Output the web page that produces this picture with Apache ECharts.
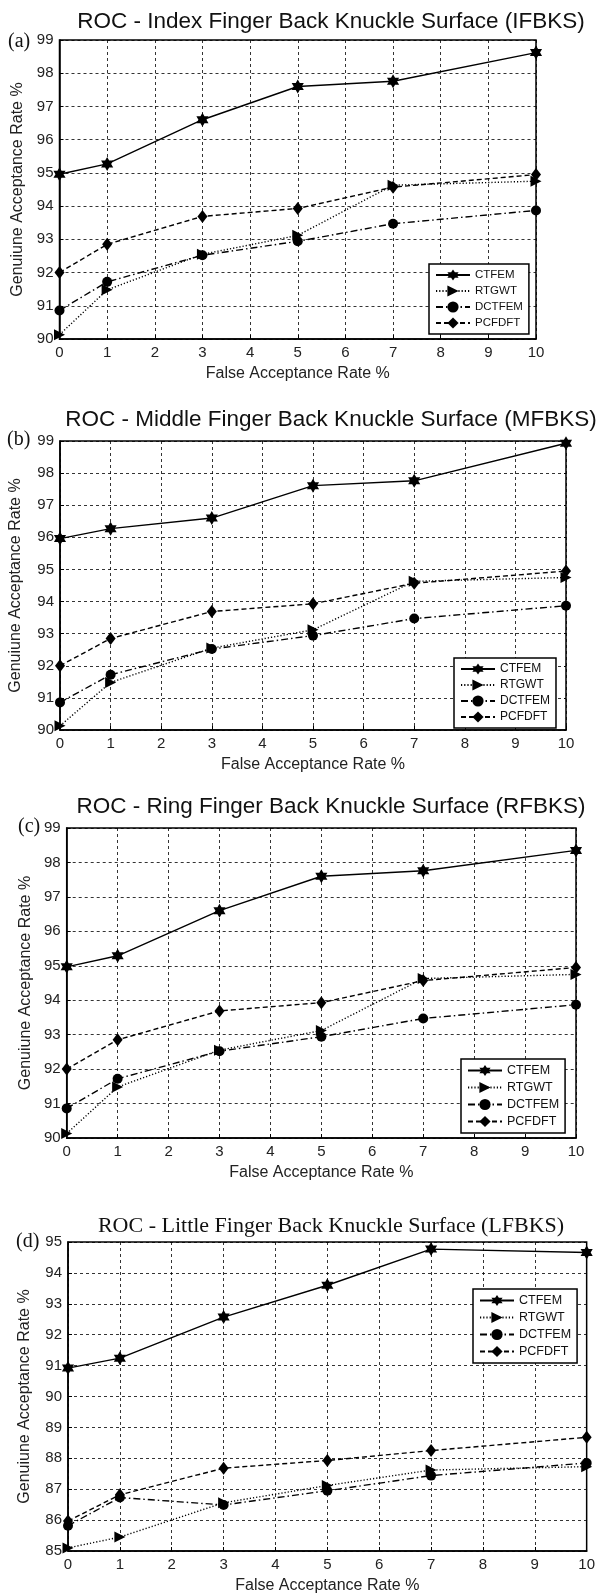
<!DOCTYPE html>
<html>
<head>
<meta charset="utf-8">
<script src="https://cdn.jsdelivr.net/npm/echarts@6/dist/echarts.min.js"></script>
<style>
  html, body { margin: 0; padding: 0; background: #fff; }
  #chart { width: 598px; height: 1595px; }
</style>
</head>
<body>
<div id="chart"></div>
<script>
// ---------------------------------------------------------------------------
// Data
// ---------------------------------------------------------------------------
const farValues = [0, 1, 3, 5, 7, 10];
const methodNames = ["CTFEM", "RTGWT", "DCTFEM", "PCFDFT"];
const panelTags = ["(a)", "(b)", "(c)", "(d)"];
const panelTitles = [
  "ROC - Index Finger Back Knuckle Surface (IFBKS)",
  "ROC - Middle Finger Back Knuckle Surface (MFBKS)",
  "ROC - Ring Finger Back Knuckle Surface (RFBKS)",
  "ROC - Little Finger Back Knuckle Surface (LFBKS)"
];
const yRanges = [[90, 99], [90, 99], [90, 99], [85, 95]];

const ctfemA = [94.96, 95.27, 96.6, 97.6, 97.76, 98.62];
const ctfemB = [95.96, 96.27, 96.6, 97.61, 97.76, 98.93];
const ctfemC = [94.97, 95.29, 96.6, 97.6, 97.76, 98.35];
const ctfemD = [90.92, 91.24, 92.57, 93.6, 94.77, 94.66];

// panels a, b, c share the three baseline methods
const rtgwtABC = [90.13, 91.48, 92.55, 93.12, 94.63, 94.75];
const dctfemABC = [90.86, 91.72, 92.52, 92.94, 93.47, 93.87];
const pcfdftABC = [92.0, 92.85, 93.69, 93.93, 94.57, 94.95];

const rtgwtD = [85.1, 85.45, 86.56, 87.12, 87.62, 87.73];
const dctfemD = [85.82, 86.73, 86.49, 86.95, 87.44, 87.85];
const pcfdftD = [85.97, 86.82, 87.68, 87.93, 88.25, 88.68];

const panelValues = [
  [ctfemA, rtgwtABC, dctfemABC, pcfdftABC],
  [ctfemB, rtgwtABC, dctfemABC, pcfdftABC],
  [ctfemC, rtgwtABC, dctfemABC, pcfdftABC],
  [ctfemD, rtgwtD, dctfemD, pcfdftD]
];

// ---------------------------------------------------------------------------
// Layout (pixels) - one entry per panel
// ---------------------------------------------------------------------------
const layouts = [
  { grid: { left: 59.5, top: 40, width: 476.5, height: 299 }, titleTop: 10, titleSize: 22.5, yGap: 31, tag: [8, 42], legend: [429, 264, 11.5], serifTitle: false },
  { grid: { left: 59.5, top: 441, width: 506.5, height: 289 }, titleTop: 408, titleSize: 22.5, yGap: 36, tag: [7, 440], legend: [454, 658, 12], serifTitle: false },
  { grid: { left: 66.7, top: 828, width: 509.3, height: 310 }, titleTop: 795, titleSize: 22.5, yGap: 30, tag: [18, 827], legend: [461, 1059, 12.5], serifTitle: false },
  { grid: { left: 68, top: 1242, width: 519, height: 310 }, titleTop: 1215, titleSize: 22, yGap: 35, tag: [16, 1242], legend: [473, 1289, 12.5], serifTitle: true }
];

const SANS = '"Liberation Sans", Arial, sans-serif';
const SERIF = '"Liberation Serif", "Times New Roman", serif';
const INK = "#111";

function hexagramPath() {
  const pts = [];
  for (let i = 0; i < 12; i++) {
    const r = i % 2 === 0 ? 10 : 5.77;
    const a = -Math.PI / 2 + (i * Math.PI) / 6;
    pts.push((r * Math.cos(a)).toFixed(2) + "," + (r * Math.sin(a)).toFixed(2));
  }
  return "path://M" + pts.join("L") + "Z";
}

const methodStyles = {
  CTFEM: { dash: "solid", symbol: hexagramPath(), size: 14, rotate: 0 },
  RTGWT: { dash: [1.2, 2], symbol: "triangle", size: 11, rotate: -90 },
  DCTFEM: { dash: [7, 3, 1.5, 3], symbol: "circle", size: 10, rotate: 0 },
  PCFDFT: { dash: [5, 3], symbol: "diamond", size: [10, 13], rotate: 0 }
};

const grids = [], xAxes = [], yAxes = [], series = [], legends = [], titles = [], tags = [];

layouts.forEach((L, p) => {
  grids.push(Object.assign({ show: true, borderColor: "#000", borderWidth: 1.5, backgroundColor: "#fff" }, L.grid));

  xAxes.push({
    gridIndex: p, type: "value", min: 0, max: 10, interval: 1,
    axisLine: { show: true, onZero: false, lineStyle: { color: "#000", width: 1.5 } },
    axisTick: { inside: true, length: 4, lineStyle: { color: "#000" } },
    axisLabel: { fontFamily: SANS, fontSize: 15, color: "#222", margin: 6 },
    splitLine: { show: true, lineStyle: { color: "#000", type: [3, 3], width: 0.8 } },
    name: "False Acceptance Rate %", nameLocation: "middle", nameGap: 27,
    nameTextStyle: { fontFamily: SANS, fontSize: 16, color: "#222" }
  });

  yAxes.push({
    gridIndex: p, type: "value", min: yRanges[p][0], max: yRanges[p][1], interval: 1,
    axisLine: { show: true, lineStyle: { color: "#000", width: 1.5 } },
    axisTick: { inside: true, length: 4, lineStyle: { color: "#000" } },
    axisLabel: { fontFamily: SANS, fontSize: 15, color: "#222", margin: 6 },
    splitLine: { show: true, lineStyle: { color: "#000", type: [3, 3], width: 0.8 } },
    name: "Genuiune Acceptance Rate %", nameLocation: "middle", nameGap: L.yGap,
    nameTextStyle: { fontFamily: SANS, fontSize: 16, color: "#222" }
  });

  methodNames.forEach((m, k) => {
    const st = methodStyles[m];
    series.push({
      type: "line", name: m, xAxisIndex: p, yAxisIndex: p,
      data: panelValues[p][k].map((v, i) => [farValues[i], v]),
      symbol: st.symbol, symbolSize: st.size, symbolRotate: st.rotate, symbolKeepAspect: true,
      showAllSymbol: true, clip: false,
      itemStyle: { color: "#000" },
      lineStyle: { color: "#000", width: 1.4, type: st.dash },
      z: 10 - k
    });
  });

  legends.push({
    orient: "vertical", left: L.legend[0], top: L.legend[1],
    data: methodNames, itemWidth: 34, itemHeight: 14, itemGap: 4,
    padding: [5, 6, 5, 6], selectedMode: false,
    backgroundColor: "#fff", borderColor: "#000", borderWidth: 1.5, borderRadius: 0,
    textStyle: { fontFamily: SANS, fontSize: L.legend[2], color: INK }
  });

  titles.push({
    text: panelTitles[p], left: 331, top: L.titleTop, textAlign: "center", padding: 0,
    textStyle: { fontFamily: L.serifTitle ? SERIF : SANS, fontSize: L.titleSize, fontWeight: "normal", color: INK }
  });

  tags.push({
    type: "text", x: L.tag[0], y: L.tag[1],
    style: { text: panelTags[p], font: '20px ' + SERIF, fill: INK, textVerticalAlign: "middle" }
  });
});

const chart = echarts.init(document.getElementById("chart"), null, { renderer: "canvas" });
chart.setOption({
  animation: false,
  backgroundColor: "#fff",
  title: titles,
  grid: grids,
  xAxis: xAxes,
  yAxis: yAxes,
  legend: legends,
  series: series,
  graphic: tags
});
</script>
</body>
</html>
